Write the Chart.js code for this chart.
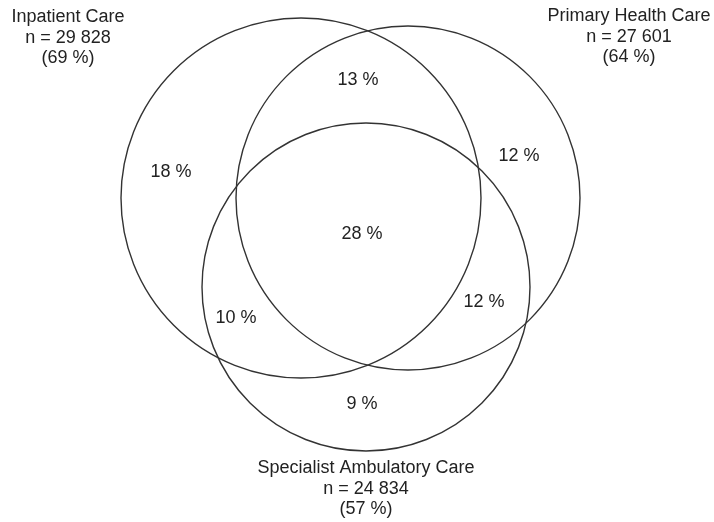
<!DOCTYPE html>
<html>
<head>
<meta charset="utf-8">
<script src="https://cdn.jsdelivr.net/npm/chart.js@4/dist/chart.umd.min.js"></script>
<style>
  html, body { margin: 0; padding: 0; background: #fff; }
  canvas { display: block; }
</style>
</head>
<body>
<canvas id="venn" width="714" height="522"></canvas>
<script>
// sets
const setNames = ['Inpatient Care', 'Primary Health Care', 'Specialist Ambulatory Care'];
const setCounts = ['29 828', '27 601', '24 834'];
const setShares = [69, 64, 57];

// region shares (%)
const regionNames = ['Inpatient only', 'Inpatient + Primary', 'Primary only', 'All three',
    'Inpatient + Specialist', 'Primary + Specialist', 'Specialist only'];
const regionShares = [18, 13, 12, 28, 10, 12, 9];

// layout (chart units, 1 unit = 1 px)
const circleX = [301, 408, 366];
const circleY = [198, 198, 287];
const circleR = [180, 172, 164];
const titleX = [68, 629, 366];
const titleY = [17, 16, 468];
const regionX = [171, 358, 519, 362, 236, 484, 362];
const regionY = [172, 80, 156, 234, 318, 302, 404];

const FONT = '18px "Liberation Sans", Arial, sans-serif';
const INK = '#222';

function pxRadius(ctx, r) {
    const s = ctx.chart.scales.x;
    return Math.abs(s.getPixelForValue(r) - s.getPixelForValue(0));
}

const textPlugin = {
    id: 'vennText',
    afterDatasetsDraw(chart) {
        const c = chart.ctx;
        c.save();
        c.font = FONT;
        c.fillStyle = INK;
        c.textAlign = 'center';
        c.textBaseline = 'middle';

        const titles = chart.getDatasetMeta(1).data;
        titles.forEach((pt, i) => {
            const lines = [setNames[i], 'n = ' + setCounts[i], '(' + setShares[i] + ' %)'];
            lines.forEach((t, j) => c.fillText(t, pt.x, pt.y + j * 20.7));
        });

        const regions = chart.getDatasetMeta(2).data;
        regions.forEach((pt, i) => {
            c.fillText(regionShares[i] + ' %', pt.x, pt.y);
        });
        c.restore();
    }
};

new Chart(document.getElementById('venn'), {
    type: 'scatter',
    data: {
        datasets: [
            {
                label: 'sets',
                data: circleX.map((x, i) => ({ x: x, y: circleY[i] })),
                pointRadius: ctx => pxRadius(ctx, circleR[ctx.dataIndex]),
                pointBackgroundColor: 'rgba(0,0,0,0)',
                pointBorderColor: '#333',
                pointBorderWidth: 1.4
            },
            {
                label: 'titles',
                data: titleX.map((x, i) => ({ x: x, y: titleY[i] })),
                pointRadius: 0
            },
            {
                label: 'regions',
                data: regionX.map((x, i) => ({ x: x, y: regionY[i] })),
                pointRadius: 0
            }
        ]
    },
    options: {
        responsive: false,
        animation: false,
        events: [],
        layout: { padding: 0 },
        plugins: {
            legend: { display: false },
            tooltip: { enabled: false }
        },
        scales: {
            x: { type: 'linear', min: 0, max: 714, display: false },
            y: { type: 'linear', min: 0, max: 522, reverse: true, display: false }
        }
    },
    plugins: [textPlugin]
});
</script>
</body>
</html>
